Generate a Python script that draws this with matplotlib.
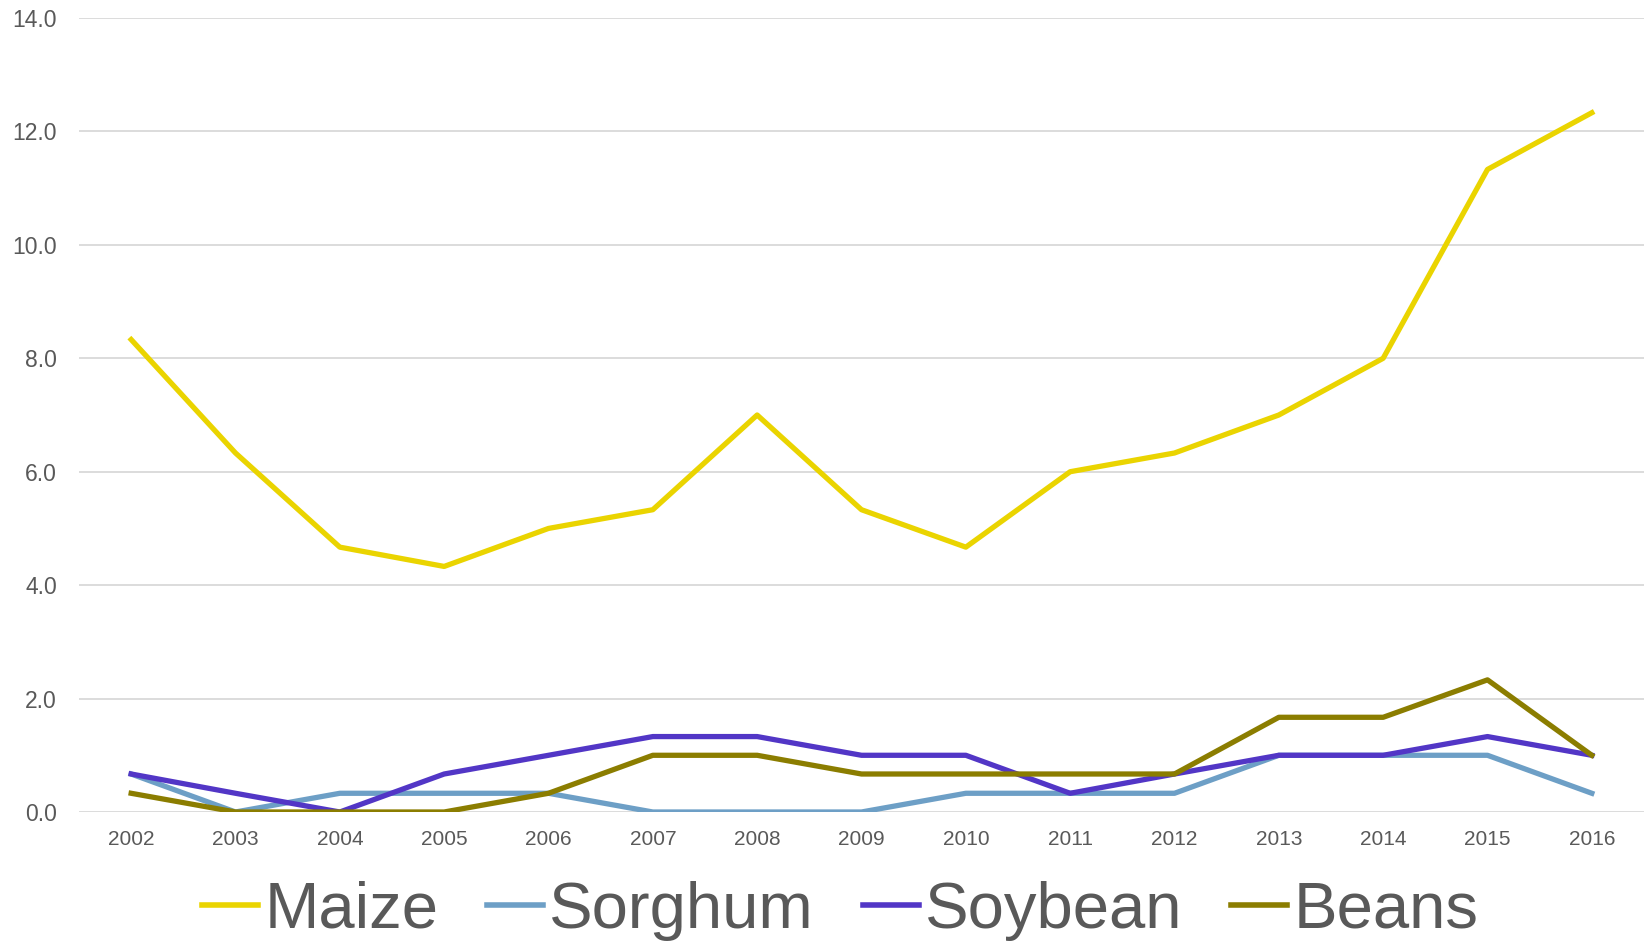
import matplotlib.pyplot as plt

years = ['2002', '2003', '2004', '2005', '2006', '2007', '2008', '2009',
         '2010', '2011', '2012', '2013', '2014', '2015', '2016']
maize = [8.33, 6.33, 4.67, 4.33, 5.0, 5.33, 7.0, 5.33, 4.67, 6.0, 6.33, 7.0, 8.0, 11.33, 12.33]
sorghum = [0.67, 0.0, 0.33, 0.33, 0.33, 0.0, 0.0, 0.0, 0.33, 0.33, 0.33, 1.0, 1.0, 1.0, 0.33]
soybean = [0.67, 0.33, 0.0, 0.67, 1.0, 1.33, 1.33, 1.0, 1.0, 0.33, 0.67, 1.0, 1.0, 1.33, 1.0]
beans = [0.33, 0.0, 0.0, 0.0, 0.33, 1.0, 1.0, 0.67, 0.67, 0.67, 0.67, 1.67, 1.67, 2.33, 1.0]

plt.rcParams['font.family'] = ['Liberation Sans', 'DejaVu Sans']

fig = plt.figure(figsize=(16.48, 9.43), dpi=100)
ax = fig.add_axes([79 / 1648, 1 - 812 / 943, (1644 - 79) / 1648, (812 - 18) / 943])

x = range(len(years))
ax.plot(x, maize, color='#EAD400', lw=3.8, label='Maize')
ax.plot(x, sorghum, color='#6D9FC6', lw=3.8, label='Sorghum')
ax.plot(x, soybean, color='#5236C6', lw=3.8, label='Soybean')
ax.plot(x, beans, color='#8B7D00', lw=3.8, label='Beans')

ax.set_xlim(-0.5, len(years) - 0.5)
ax.set_ylim(0, 14)
ax.set_yticks([0, 2, 4, 6, 8, 10, 12, 14])
ax.set_yticklabels([f'{v:.1f}' for v in range(0, 15, 2)], fontsize=16.5, color='#595959')
ax.set_xticks(list(x))
ax.set_xticklabels(years, fontsize=15, color='#595959')
ax.tick_params(axis='x', length=0, pad=13)
ax.tick_params(axis='y', length=0, pad=16)
ax.grid(axis='y', color='#D9D9D9', lw=1.3)
ax.set_axisbelow(True)
for s in ax.spines.values():
    s.set_visible(False)

leg = fig.legend(loc='center', bbox_to_anchor=(0.51, 1 - 911 / 943), ncol=4, frameon=False,
                 prop={'size': 47}, labelcolor='#595959',
                 handlelength=0.85, handletextpad=0.1, columnspacing=0.75)
for h in leg.get_lines():
    h.set_linewidth(4)

fig.savefig('out.png', dpi=100)
